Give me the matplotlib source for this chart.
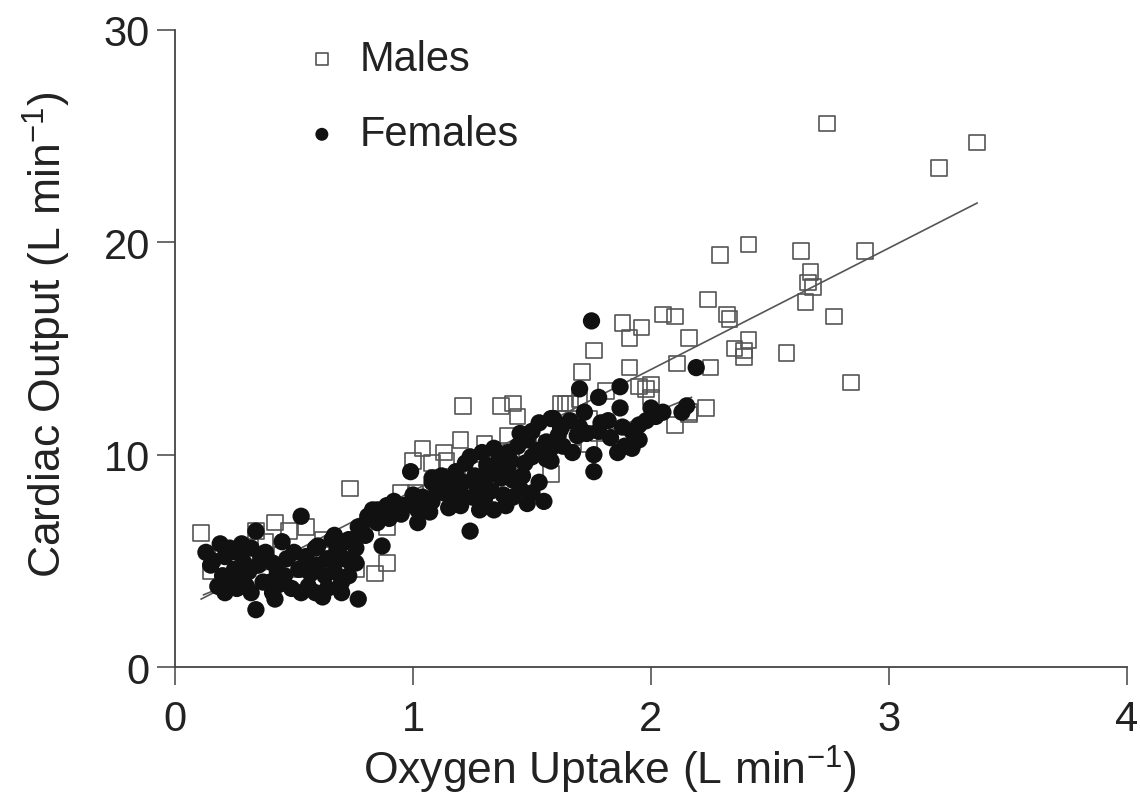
import numpy as np
import matplotlib
matplotlib.use('Agg')
import matplotlib.pyplot as plt

plt.rcParams['font.family'] = ['Liberation Sans', 'DejaVu Sans']
plt.rcParams['mathtext.default'] = 'regular'
plt.rcParams['axes.unicode_minus'] = False

# Males: oxygen uptake (L/min) vs cardiac output (L/min)
male_x = [2.74, 3.37, 3.21, 2.90, 2.63, 2.41, 2.29, 2.67, 2.66, 2.68, 2.65, 2.77,
          2.24, 2.32, 2.33, 2.05, 2.10, 1.88, 1.96, 1.91, 2.16, 2.41, 2.39, 2.57,
          2.35, 2.39, 2.25, 2.11, 2.84, 1.91, 1.76, 1.71, 2.23, 2.10, 2.16, 1.95,
          1.98, 2.00, 1.81, 1.70, 1.64, 1.66, 1.62, 1.67, 1.74, 1.58, 1.74, 1.82,
          1.42, 1.37, 1.44, 1.21, 1.20, 1.04, 1.13, 1.30, 1.40, 1.00, 1.08, 1.14,
          0.95, 1.01, 0.89, 0.735, 0.11, 0.42, 0.48, 0.34, 0.55, 0.15, 0.89, 0.84,
          0.27, 0.53, 0.73, 0.76, 0.45, 0.62, 1.25, 1.35, 1.48, 1.55, 1.10, 0.88,
          1.28, 1.78, 2.16, 2.00, 0.20, 0.38]
male_y = [25.6, 24.7, 23.5, 19.6, 19.6, 19.9, 19.4, 18.6, 18.1, 17.9, 17.2, 16.5,
          17.3, 16.6, 16.4, 16.6, 16.5, 16.2, 16.0, 15.5, 15.5, 15.4, 14.9, 14.8,
          15.0, 14.6, 14.1, 14.3, 13.4, 14.1, 14.9, 13.9, 12.2, 11.4, 11.9, 13.2,
          13.1, 12.7, 13.0, 12.6, 12.4, 12.4, 12.4, 10.8, 11.7, 9.1, 10.5, 11.1,
          12.4, 12.3, 11.8, 12.3, 10.7, 10.3, 10.1, 10.5, 10.9, 9.7, 9.6, 9.7,
          8.2, 8.2, 6.6, 8.4, 6.3, 6.8, 6.4, 6.4, 6.6, 4.5, 4.9, 4.4,
          4.9, 4.6, 5.6, 4.6, 5.3, 6.0, 9.3, 9.9, 10.2, 10.5, 8.9, 7.3,
          9.6, 11.0, 12.0, 13.3, 5.5, 5.9]

# Females
female_x = [1.75, 2.19, 1.70, 1.87, 1.78, 1.87, 2.15, 2.13, 2.02, 1.98, 1.95, 1.92,
            1.95, 1.89, 1.86, 1.76, 1.76, 1.69, 1.62, 1.58, 1.78, 1.79, 1.58, 1.58,
            1.92, 1.62, 1.53, 1.59,
            0.99, 1.24, 1.08, 1.34, 1.24, 1.55, 1.50, 1.45, 1.39, 1.34, 1.28, 1.20,
            1.17, 1.13, 1.07, 1.02, 0.96, 0.92, 0.83, 0.82, 0.78, 0.87, 1.35, 1.37,
            1.31, 1.27, 1.21, 1.16, 1.41, 1.44, 1.48, 1.50, 1.56, 1.56, 1.61, 1.46,
            1.53, 1.38, 1.08, 0.85, 0.89, 0.93, 0.97, 1.06, 1.08, 0.78, 0.75, 0.66,
            0.60, 0.55, 0.64, 0.74, 0.53, 1.02,
            0.34, 0.45, 0.19, 0.13, 0.16, 0.21, 0.26, 0.32, 0.38, 0.41, 0.35, 0.29,
            0.25, 0.20, 0.18, 0.21, 0.26, 0.32, 0.29, 0.37, 0.41, 0.42, 0.34, 0.46,
            0.49, 0.53, 0.56, 0.59, 0.62, 0.70, 0.77, 0.55, 0.52, 0.59, 0.66, 0.67,
            0.63, 0.67, 0.73, 0.71, 0.76, 0.73, 0.70, 0.64, 0.77, 0.81, 0.76,
            1.12, 1.18, 1.22, 1.26, 1.30, 1.33, 1.40, 1.42, 1.47, 1.52, 1.36, 1.29,
            1.40, 1.45, 1.50, 1.20, 1.25, 1.33, 1.10, 1.04, 1.00, 0.95, 0.90, 1.15,
            1.30, 1.42, 1.48, 1.63, 1.67, 1.70, 1.73, 1.66, 1.83, 1.82, 1.88, 2.00,
            2.05, 1.72,
            0.23, 0.28, 0.24, 0.31, 0.36, 0.43, 0.47, 0.50, 0.40, 0.15, 0.22, 0.30,
            0.44, 0.57, 0.60, 0.68, 0.70, 0.80, 0.85, 0.88]
female_y = [16.3, 14.1, 13.1, 13.2, 12.7, 12.2, 12.3, 12.0, 11.8, 11.6, 11.4, 11.1,
            10.7, 10.4, 10.1, 10.0, 9.2, 10.9, 11.4, 11.7, 11.1, 11.5, 10.3, 9.7,
            10.3, 11.2, 11.5, 11.7,
            9.2, 9.9, 8.9, 10.3, 6.4, 7.8, 8.2, 8.4, 7.6, 7.4, 7.4, 7.6,
            7.9, 8.2, 7.3, 7.4, 7.6, 7.8, 7.4, 7.0, 6.6, 5.7, 9.5, 8.9,
            9.5, 8.5, 8.7, 8.5, 9.7, 10.4, 10.7, 9.9, 9.8, 10.6, 10.9, 9.0,
            8.7, 8.1, 8.7, 7.4, 7.6, 7.4, 7.6, 7.4, 7.8, 6.5, 6.0, 6.0,
            5.7, 5.2, 5.1, 4.9, 7.1, 6.8,
            6.4, 5.9, 5.8, 5.4, 5.0, 5.2, 5.4, 5.6, 5.4, 4.9, 4.8, 4.9,
            4.6, 4.3, 3.8, 3.5, 3.7, 3.5, 4.0, 4.0, 3.5, 3.2, 2.7, 4.3,
            3.7, 3.5, 3.8, 3.5, 3.3, 3.5, 3.2, 5.1, 4.6, 5.6, 5.1, 4.5,
            4.3, 6.2, 6.0, 5.1, 4.9, 4.3, 4.0, 3.7, 6.6, 7.1, 5.6,
            9.0, 9.2, 9.6, 9.0, 8.8, 9.1, 9.2, 8.8, 9.6, 10.2, 10.0, 10.1,
            10.1, 11.0, 11.1, 8.2, 8.0, 8.3, 8.3, 8.0, 8.1, 7.2, 7.0, 7.5,
            7.9, 8.0, 7.7, 10.4, 10.1, 11.3, 11.0, 11.6, 10.8, 11.6, 11.3, 12.2,
            12.0, 12.0,
            5.6, 5.8, 4.2, 4.5, 5.2, 4.5, 5.1, 5.4, 4.0, 4.8, 3.9, 3.8,
            3.9, 4.4, 4.8, 5.5, 5.8, 6.2, 6.8, 7.2]

# regression lines (end points)
male_fit_x = [0.11, 3.37]
male_fit_y = [3.2, 21.85]
female_fit_x = [0.12, 2.17]
female_fit_y = [3.4, 12.7]

fig = plt.figure(figsize=(11.4, 8.03), dpi=100)
ax = fig.add_axes([0.1535, 0.1681, 0.8351, 0.7933])

ax.scatter(male_x, male_y, marker='s', s=125, facecolors='none',
           edgecolors='#555555', linewidths=1.2, zorder=2, label='Males')
ax.plot(male_fit_x, male_fit_y, color='#555555', lw=1.2, zorder=3)
ax.plot(female_fit_x, female_fit_y, color='#555555', lw=1.2, zorder=3)
ax.scatter(female_x, female_y, marker='o', s=155, color='#111111',
           edgecolors='none', zorder=4, label='Females')

ax.set_xlim(0, 4)
ax.set_ylim(0, 30)
ax.set_xticks([0, 1, 2, 3, 4])
ax.set_yticks([0, 10, 20, 30])
for s in ['top', 'right']:
    ax.spines[s].set_visible(False)
for s in ['left', 'bottom']:
    ax.spines[s].set_color('#444444')
    ax.spines[s].set_linewidth(1.3)
ax.tick_params(direction='out', length=13, width=1.1, color='#444444',
               labelsize=30, labelcolor='#222222')
ax.tick_params(axis='x', pad=10)
ax.tick_params(axis='y', pad=5)

ax.set_xlabel('Oxygen Uptake (L min$^{-1}$)', fontsize=32, color='#222222', va='center')
ax.set_ylabel('Cardiac Output (L min$^{-1}$)', fontsize=32, color='#222222', va='center')
ax.xaxis.set_label_coords(0.457, -0.16)
ax.yaxis.set_label_coords(-0.135, 0.523)

leg = ax.legend(loc='upper left', bbox_to_anchor=(0.093, 1.045), frameon=False,
                fontsize=30, markerscale=0.75, handletextpad=0.4,
                labelspacing=0.85, handlelength=1.0, labelcolor='#222222')

fig.savefig('out.png', dpi=100)
